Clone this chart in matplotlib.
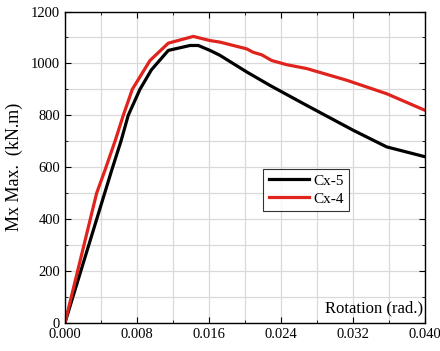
import matplotlib

matplotlib.use("Agg")
import matplotlib.pyplot as plt
from matplotlib.ticker import MultipleLocator, FormatStrFormatter

# Cx-5 (black)
cx5_rot = [0, 0.00353, 0.00519, 0.00622, 0.00703, 0.00833, 0.0096,
           0.01148, 0.01389, 0.01481, 0.01611, 0.01722, 0.02019, 0.02278,
           0.02648, 0.03203, 0.03574, 0.0400]
cx5_m = [0, 400, 588, 700, 800, 900, 975,
         1050, 1069, 1069, 1050, 1031, 967, 915,
         845, 742, 678, 640]

# Cx-4 (red)
cx4_rot = [0, 0.00352, 0.00444, 0.00556, 0.00648, 0.00748, 0.00944,
           0.01148, 0.01426, 0.01611, 0.01722, 0.02019, 0.02089, 0.02186,
           0.02297, 0.02463, 0.02686, 0.0313, 0.03574, 0.0400]
cx4_m = [0, 500, 588, 700, 800, 900, 1011,
         1078, 1104, 1088, 1082, 1056, 1043, 1033,
         1011, 995, 980, 935, 883, 819]

plt.rcParams.update({
    "font.family": "Liberation Serif",
    "font.size": 11,
})

fig = plt.figure(figsize=(4.4, 3.51), dpi=100)
ax = fig.add_axes([0.1477, 0.0806, 0.8182, 0.8866])

ax.plot(cx5_rot, cx5_m, color="black", linewidth=2.3, label="Cx-5")
ax.plot(cx4_rot, cx4_m, color="#e0231c", linewidth=2.3, label="Cx-4")

ax.set_xlim(0, 0.040)
ax.set_ylim(0, 1200)
ax.xaxis.set_major_locator(MultipleLocator(0.008))
ax.xaxis.set_minor_locator(MultipleLocator(0.004))
ax.xaxis.set_major_formatter(FormatStrFormatter("%.3f"))
ax.yaxis.set_major_locator(MultipleLocator(200))
ax.yaxis.set_minor_locator(MultipleLocator(100))

ax.grid(which="both", color="#d9d9d9", linewidth=0.9)
ax.set_axisbelow(True)
ax.tick_params(which="both", direction="in", top=True, right=True, labelsize=10.5)
ax.tick_params(which="major", length=4)
ax.tick_params(which="minor", length=2.5)
for s in ax.spines.values():
    s.set_linewidth(1.0)

ax.set_ylabel("Mx Max.  (kN.m)", fontsize=13, labelpad=6)
ax.text(0.995, 0.02, "Rotation (rad.)", transform=ax.transAxes,
        ha="right", va="bottom", fontsize=12)

leg = ax.legend(loc="upper left", bbox_to_anchor=(0.53, 0.52), fontsize=11,
                frameon=True, fancybox=False, edgecolor="black",
                handlelength=2.6, borderpad=0.35, labelspacing=0.3,
                handletextpad=0.3)
leg.get_frame().set_linewidth(0.8)

fig.savefig("out.png", dpi=100)
